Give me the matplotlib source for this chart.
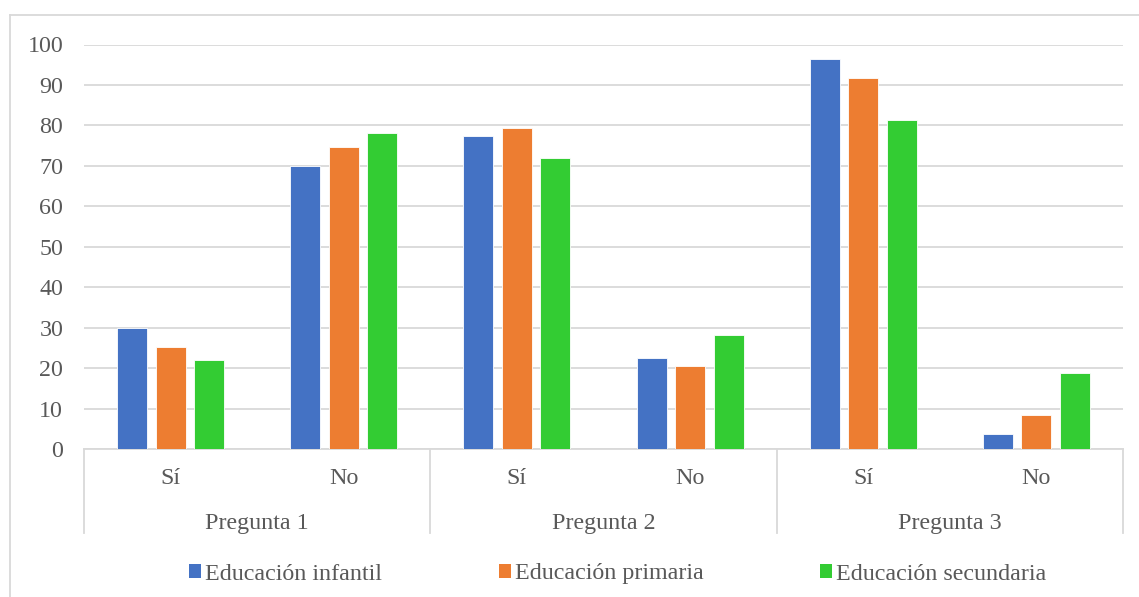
import numpy as np
import matplotlib.pyplot as plt
from matplotlib.lines import Line2D
from matplotlib.patches import Patch

plt.rcParams['font.family'] = ['Liberation Serif', 'DejaVu Serif']

questions = ['Pregunta 1', 'Pregunta 2', 'Pregunta 3']
answers = ['Sí', 'No', 'Sí', 'No', 'Sí', 'No']
series = ['Educación infantil', 'Educación primaria', 'Educación secundaria']
infantil = [30.0, 70.0, 77.4, 22.6, 96.4, 3.6]
primaria = [25.3, 74.7, 79.4, 20.6, 91.6, 8.4]
secundaria = [21.9, 78.1, 71.9, 28.1, 81.3, 18.7]
colors = ['#4472C4', '#ED7D31', '#33CC33']

grid_c = '#d9d9d9'
text_c = '#595959'
fs = 17.3

fig = plt.figure(figsize=(11.39, 5.97), dpi=100)
ax = fig.add_axes([84 / 1139, 1 - 449 / 597, (1123 - 84) / 1139, (449 - 44.5) / 597])

x = np.arange(len(answers))
width = 0.173
step = 0.2225
for i, (vals, c, name) in enumerate(zip([infantil, primaria, secundaria], colors, series)):
    ax.bar(x + (i - 1) * step, vals, width, color=c, edgecolor='white', linewidth=0.6,
           label=name, zorder=3)

ax.set_xlim(-0.5, len(answers) - 0.5)
ax.set_ylim(0, 100)
ax.set_yticks(range(0, 101, 10))
ax.yaxis.grid(True, color=grid_c, linewidth=1.3, zorder=0)
for s in ['top', 'right', 'left']:
    ax.spines[s].set_visible(False)
ax.spines['bottom'].set_color(grid_c)
ax.spines['bottom'].set_linewidth(1.3)
ax.tick_params(axis='y', length=0, pad=15, labelsize=fs, labelcolor=text_c)
ax.set_xticks(x)
ax.set_xticklabels(answers)
ax.tick_params(axis='x', length=0, pad=14, labelsize=fs, labelcolor=text_c)

# category dividers
below = 84 / 404.5
for d in [-0.5, 1.5, 3.5, 5.5]:
    ax.axvline(d, ymin=-below, ymax=0, color=grid_c, linewidth=1.3, clip_on=False)

for k, q in enumerate(questions):
    ax.text(2 * k + 0.5, -74 / 404.5, q, transform=ax.get_xaxis_transform(),
            ha='center', va='center', fontsize=fs, color=text_c)

handles = [Patch(facecolor=c) for c in colors]
fig.legend(handles, series, loc='center left', bbox_to_anchor=(189 / 1139, 1 - 574 / 597),
           ncol=3, frameon=False, fontsize=fs, labelcolor=text_c,
           handlelength=0.5, handleheight=0.5, handletextpad=0.17,
           columnspacing=4.85, borderpad=0, borderaxespad=0)

# chart area border (cropped)
fig.add_artist(Line2D([10 / 1139, 1], [1 - 15 / 597, 1 - 15 / 597], color=grid_c, linewidth=1.3))
fig.add_artist(Line2D([10 / 1139, 10 / 1139], [0, 1 - 15 / 597], color=grid_c, linewidth=1.3))

fig.savefig('out.png', dpi=100)
